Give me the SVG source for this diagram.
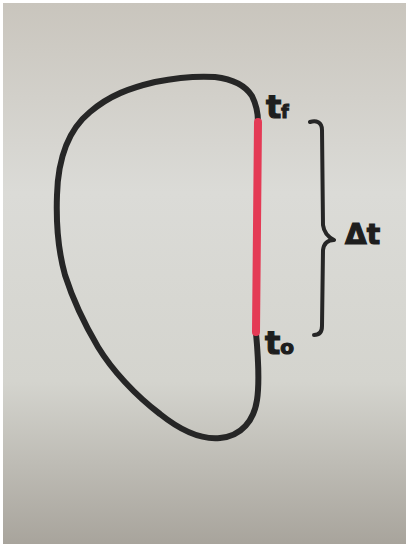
<svg xmlns="http://www.w3.org/2000/svg" width="409" height="548" viewBox="0 0 409 548">
  <defs>
    <linearGradient id="paper" x1="0" y1="0" x2="0" y2="1">
      <stop offset="0" stop-color="#c9c5bd"/>
      <stop offset="0.35" stop-color="#dbdbd7"/>
      <stop offset="0.7" stop-color="#d4d4ce"/>
      <stop offset="1" stop-color="#a8a49c"/>
    </linearGradient>
  </defs>
  <style>
    .ink { fill: none; stroke: #262626; stroke-linecap: round; stroke-linejoin: round; }
    .label { font-family: "DejaVu Sans", "Liberation Sans", sans-serif; font-weight: bold; fill: #1e1e1e; stroke: #1e1e1e; stroke-width: 1.2; }
  </style>
  <rect x="0" y="0" width="409" height="548" fill="#ffffff"/>
  <rect x="3" y="3" width="403" height="541" fill="url(#paper)"/>

  <g id="loop">
    <path class="ink" stroke-width="6" d="M256,333 C258,355 260,380 257,400 C254,420 242,436 220,438 C200,440 180,430 160,414 C135,395 112,370 98,347 C85,325 73,300 65,275 C58,250 56,222 57,195 C58,160 68,130 90,112 C110,95 130,88 155,82 C175,78 200,76 215,77 C232,79 245,85 252,96 C256,104 258,112 258,122"/>
  </g>

  <g id="interval">
    <line x1="258" y1="122" x2="256" y2="332" stroke="#e43a55" stroke-width="8" stroke-linecap="round"/>
  </g>

  <g id="brace">
    <path class="ink" stroke-width="4" d="M310,122 C316,120 322,122 322,130 L323,225 C324,233 328,237 334,240 C328,240 324,243 323,250 L322,326 C322,332 319,335 314,335"/>
  </g>

  <g id="label-tf">
    <text class="label" x="266" y="118" font-size="32">t<tspan font-size="17">f</tspan></text>
  </g>
  <g id="label-t0">
    <text class="label" x="265" y="354" font-size="32">t<tspan font-size="20">o</tspan></text>
  </g>
  <g id="label-dt">
    <text class="label" x="345" y="244" font-size="28">Δt</text>
  </g>
</svg>
